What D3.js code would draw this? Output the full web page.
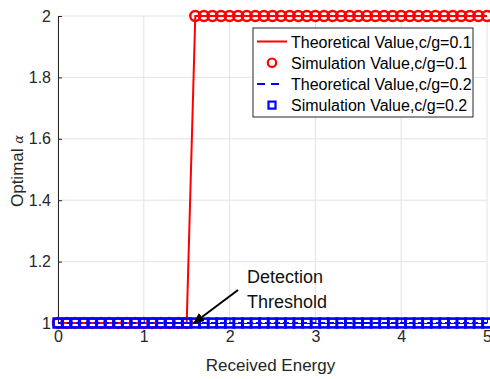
<!DOCTYPE html>
<html>
<head>
<meta charset="utf-8">
<script src="https://cdn.jsdelivr.net/npm/d3@7"></script>
<style>
  body { margin: 0; background: #fff; }
  text { font-family: Arial, "Liberation Sans", sans-serif; }
</style>
</head>
<body>
<svg width="490" height="379"></svg>
<script>
// received energy samples
const energy = [
  0, 0.1, 0.2, 0.3, 0.4, 0.5, 0.6, 0.7, 0.8, 0.9,
  1, 1.1, 1.2, 1.3, 1.4, 1.5, 1.6, 1.7, 1.8, 1.9,
  2, 2.1, 2.2, 2.3, 2.4, 2.5, 2.6, 2.7, 2.8, 2.9,
  3, 3.1, 3.2, 3.3, 3.4, 3.5, 3.6, 3.7, 3.8, 3.9,
  4, 4.1, 4.2, 4.3, 4.4, 4.5, 4.6, 4.7, 4.8, 4.9, 5
];
// optimal alpha, c/g = 0.1
const alpha01 = [
  1, 1, 1, 1, 1, 1, 1, 1, 1, 1,
  1, 1, 1, 1, 1, 1, 2, 2, 2, 2,
  2, 2, 2, 2, 2, 2, 2, 2, 2, 2,
  2, 2, 2, 2, 2, 2, 2, 2, 2, 2,
  2, 2, 2, 2, 2, 2, 2, 2, 2, 2, 2
];
// optimal alpha, c/g = 0.2
const alpha02 = [
  1, 1, 1, 1, 1, 1, 1, 1, 1, 1,
  1, 1, 1, 1, 1, 1, 1, 1, 1, 1,
  1, 1, 1, 1, 1, 1, 1, 1, 1, 1,
  1, 1, 1, 1, 1, 1, 1, 1, 1, 1,
  1, 1, 1, 1, 1, 1, 1, 1, 1, 1, 1
];
const xTicks = [0, 1, 2, 3, 4, 5];
const yTicks = [1, 1.2, 1.4, 1.6, 1.8, 2];
const legendLabels = [
  "Theoretical Value,c/g=0.1",
  "Simulation Value,c/g=0.1",
  "Theoretical Value,c/g=0.2",
  "Simulation Value,c/g=0.2"
];

const svg = d3.select("svg");
const margin = { left: 58, right: 3, top: 16, bottom: 56 };
const width = 490 - margin.left - margin.right;
const height = 379 - margin.top - margin.bottom;

const x = d3.scaleLinear().domain([0, 5]).range([0, width]);
const y = d3.scaleLinear().domain([1, 2]).range([height, 0]);

const g = svg.append("g").attr("transform", "translate(" + margin.left + "," + margin.top + ")");

// grid
g.append("g")
  .selectAll("line")
  .data(xTicks)
  .join("line")
  .attr("x1", (d) => x(d)).attr("x2", (d) => x(d))
  .attr("y1", 0).attr("y2", height)
  .attr("stroke", "#e3e3e3").attr("stroke-width", 1);
g.append("g")
  .selectAll("line")
  .data(yTicks)
  .join("line")
  .attr("x1", 0).attr("x2", width)
  .attr("y1", (d) => y(d)).attr("y2", (d) => y(d))
  .attr("stroke", "#e3e3e3").attr("stroke-width", 1);

// axes
const xAxis = g.append("g")
  .attr("transform", "translate(0," + height + ")")
  .call(d3.axisBottom(x).tickValues(xTicks).tickSizeInner(-4).tickSizeOuter(0).tickPadding(8).tickFormat(d3.format("d")));
const yAxis = g.append("g")
  .call(d3.axisLeft(y).tickValues(yTicks).tickSizeInner(-4).tickSizeOuter(0).tickPadding(7).tickFormat((d) => d3.format("~g")(d)));
[xAxis, yAxis].forEach((a) => {
  a.select(".domain").attr("stroke", "#262626");
  a.selectAll(".tick line").attr("stroke", "#262626");
  a.selectAll(".tick text").attr("fill", "#262626").attr("font-size", "16px")
    .attr("font-family", "Arial, 'Liberation Sans', sans-serif");
});

// lines and markers
const line = d3.line().x((d) => x(d[0])).y((d) => y(d[1]));
const red = energy.map((e, i) => [e, alpha01[i]]);
const blue = energy.map((e, i) => [e, alpha02[i]]);

g.append("path").datum(red)
  .attr("d", line).attr("fill", "none")
  .attr("stroke", "#ff0000").attr("stroke-width", 2);

g.selectAll("circle.sim01")
  .data(red)
  .join("circle")
  .attr("class", "sim01")
  .attr("cx", (d) => x(d[0])).attr("cy", (d) => y(d[1]))
  .attr("r", 5)
  .attr("fill", "none").attr("stroke", "#ff0000").attr("stroke-width", 2.4);

g.append("path").datum(blue)
  .attr("d", line).attr("fill", "none")
  .attr("stroke", "#0000ff").attr("stroke-width", 2)
  .attr("stroke-dasharray", "6,3");

g.selectAll("rect.sim02")
  .data(blue)
  .join("rect")
  .attr("class", "sim02")
  .attr("x", (d) => x(d[0]) - 4.4).attr("y", (d) => y(d[1]) - 4.4)
  .attr("width", 8.8).attr("height", 8.8)
  .attr("fill", "none").attr("stroke", "#0000ff").attr("stroke-width", 2.6);

// axis labels
svg.append("text")
  .attr("x", margin.left + width / 2 - 2).attr("y", 371)
  .attr("text-anchor", "middle").attr("font-size", "17px").attr("fill", "#262626")
  .text("Received Energy");
const yl = svg.append("text")
  .attr("transform", "translate(23," + 171 + ") rotate(-90)")
  .attr("text-anchor", "middle").attr("font-size", "17px").attr("fill", "#262626");
yl.append("tspan").text("Optimal ");
yl.append("tspan").attr("font-style", "italic").attr("font-size", "13px")
  .attr("font-family", "'DejaVu Serif', serif").text("α");

// annotation
svg.append("defs").append("marker")
  .attr("id", "ah").attr("viewBox", "0 0 10 10").attr("refX", 9).attr("refY", 5)
  .attr("markerWidth", 5.5).attr("markerHeight", 5.5).attr("orient", "auto")
  .attr("markerUnits", "strokeWidth")
  .append("path").attr("d", "M0,0.5 L10,5 L0,9.5 Z").attr("fill", "#000");
svg.append("line")
  .attr("x1", 238).attr("y1", 290)
  .attr("x2", 194).attr("y2", 323)
  .attr("stroke", "#000").attr("stroke-width", 2).attr("marker-end", "url(#ah)");
svg.append("text").attr("x", 247).attr("y", 283).attr("font-size", "18px").attr("fill", "#111").text("Detection");
svg.append("text").attr("x", 247).attr("y", 308).attr("font-size", "18px").attr("fill", "#111").text("Threshold");

// legend
const lg = svg.append("g").attr("transform", "translate(253,28)");
lg.append("rect").attr("width", 220).attr("height", 89)
  .attr("fill", "#fff").attr("stroke", "#262626").attr("stroke-width", 1);
legendLabels.forEach((lab, i) => {
  const cy = 13.5 + i * 21.2;
  if (i === 0) {
    lg.append("line").attr("x1", 4).attr("x2", 34).attr("y1", cy).attr("y2", cy)
      .attr("stroke", "#ff0000").attr("stroke-width", 2);
  } else if (i === 1) {
    lg.append("circle").attr("cx", 19).attr("cy", cy).attr("r", 4.2)
      .attr("fill", "none").attr("stroke", "#ff0000").attr("stroke-width", 2.2);
  } else if (i === 2) {
    lg.append("line").attr("x1", 4).attr("x2", 30).attr("y1", cy).attr("y2", cy)
      .attr("stroke", "#0000ff").attr("stroke-width", 2).attr("stroke-dasharray", "8,6");
  } else {
    lg.append("rect").attr("x", 15.5).attr("y", cy - 3.5).attr("width", 7).attr("height", 7)
      .attr("fill", "none").attr("stroke", "#0000ff").attr("stroke-width", 2.2);
  }
  lg.append("text").attr("x", 38).attr("y", cy + 6)
    .attr("font-size", "16px").attr("fill", "#000").text(lab);
});
</script>
</body>
</html>
